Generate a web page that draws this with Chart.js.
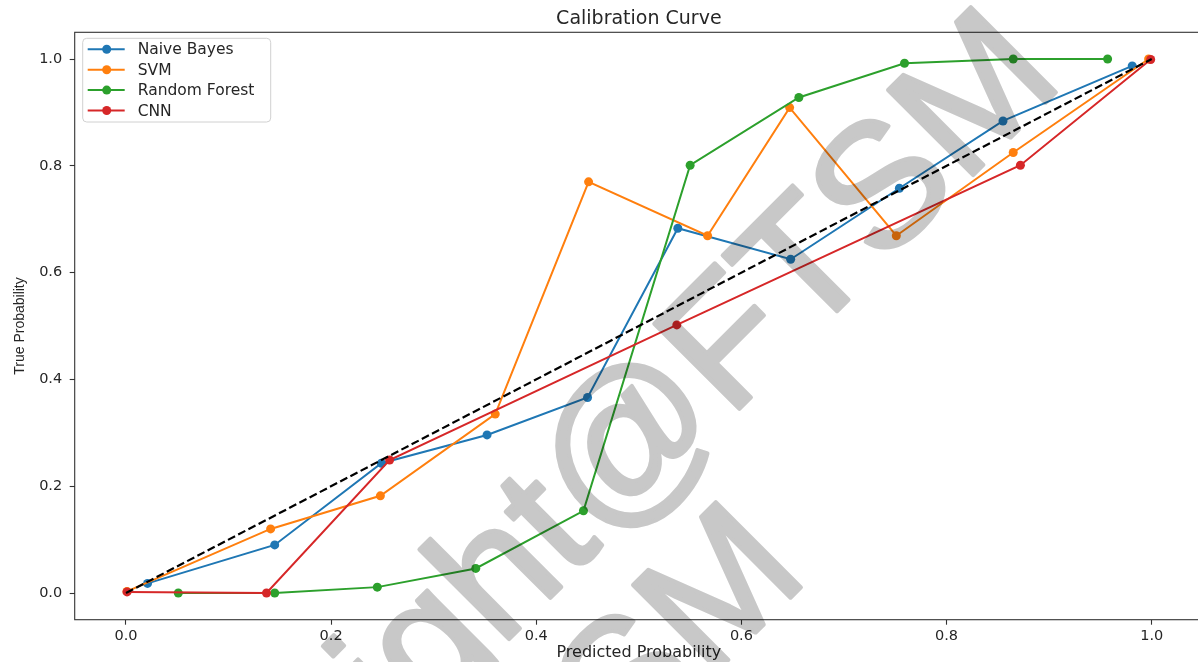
<!DOCTYPE html>
<html>
<head>
<meta charset="utf-8">
<script src="https://cdn.jsdelivr.net/npm/chart.js@4.4.1/dist/chart.umd.min.js"></script>
<style>
  html, body { margin: 0; padding: 0; background: #fff; overflow: hidden; }
  #wrap { width: 1210px; height: 662px; }
</style>
</head>
<body>
<div id="wrap"><canvas id="chart" width="1210" height="662"></canvas></div>
<script>
// Calibration curve, values
const xTicks = [0, 0.2, 0.4, 0.6, 0.8, 1.0];
const yTicks = [0, 0.2, 0.4, 0.6, 0.8, 1.0];

const seriesNames = ['Naive Bayes', 'SVM', 'Random Forest', 'CNN'];
const seriesColors = ['#1f77b4', '#ff7f0e', '#2ca02c', '#d62728'];

// mean predicted probability / fraction of positives per bin
const nbPred  = [0.021, 0.145, 0.249, 0.352, 0.450, 0.538, 0.648, 0.754, 0.855, 0.981];
const nbTrue  = [0.018, 0.090, 0.243, 0.296, 0.366, 0.683, 0.625, 0.758, 0.884, 0.987];
const svmPred = [0.001, 0.141, 0.248, 0.360, 0.451, 0.567, 0.647, 0.751, 0.865, 0.997];
const svmTrue = [0.003, 0.120, 0.182, 0.335, 0.770, 0.669, 0.909, 0.669, 0.825, 1.000];
const rfPred  = [0.051, 0.145, 0.245, 0.341, 0.446, 0.550, 0.656, 0.759, 0.865, 0.957];
const rfTrue  = [0.000, 0.000, 0.011, 0.046, 0.154, 0.801, 0.928, 0.992, 1.000, 1.000];
const cnnPred = [0.001, 0.137, 0.257, 0.537, 0.872, 0.999];
const cnnTrue = [0.002, 0.000, 0.249, 0.502, 0.801, 0.999];

// perfectly calibrated reference
const diagX = [0, 1];
const diagY = [0, 1];

const watermarkText = 'Copyright@FTSM';

const FONT = '"DejaVu Sans", sans-serif';
const INK = '#262626';

function toPoints(xs, ys) {
  return xs.map((x, i) => ({ x, y: ys[i] }));
}

const predSets = [nbPred, svmPred, rfPred, cnnPred];
const trueSets = [nbTrue, svmTrue, rfTrue, cnnTrue];

const curveSets = seriesNames.map((name, i) => ({
  label: name,
  data: toPoints(predSets[i], trueSets[i]),
  showLine: true,
  borderColor: seriesColors[i],
  backgroundColor: seriesColors[i],
  borderWidth: 2,
  pointRadius: 4.5,
  pointHoverRadius: 4.5,
  pointBorderWidth: 0,
  order: seriesNames.length - i
}));

const diagSet = {
  label: '',
  data: toPoints(diagX, diagY),
  showLine: true,
  borderColor: '#000',
  borderWidth: 2.2,
  borderDash: [8, 3.5],
  pointRadius: 0,
  order: 0
};

// all four spines, drawn over the lines like matplotlib
const spines = {
  id: 'spines',
  afterDatasetsDraw(chart) {
    const { ctx, chartArea: a } = chart;
    ctx.save();
    ctx.strokeStyle = '#333';
    ctx.lineWidth = 1.1;
    ctx.strokeRect(a.left, a.top, a.right - a.left, a.bottom - a.top);
    ctx.restore();
  }
};

// matplotlib-like legend: line + marker handle inside a framed box
const boxLegend = {
  id: 'boxLegend',
  afterDatasetsDraw(chart) {
    const { ctx, chartArea: a } = chart;
    const items = chart.data.datasets.filter(d => d.label);
    const x0 = a.left + 8, y0 = a.top + 6;
    const rowH = 20.4;
    const w = 188, h = 22.5 + rowH * (items.length - 1);
    ctx.save();
    ctx.beginPath();
    ctx.roundRect(x0, y0, w, h, 4);
    ctx.fillStyle = 'rgba(255,255,255,0.8)';
    ctx.fill();
    ctx.strokeStyle = '#d0d0d0';
    ctx.lineWidth = 1;
    ctx.stroke();
    ctx.font = '15.5px ' + FONT;
    ctx.textBaseline = 'middle';
    items.forEach((d, i) => {
      const y = y0 + 11 + i * rowH;
      ctx.strokeStyle = d.borderColor;
      ctx.lineWidth = 2;
      ctx.beginPath();
      ctx.moveTo(x0 + 5, y);
      ctx.lineTo(x0 + 42, y);
      ctx.stroke();
      ctx.fillStyle = d.borderColor;
      ctx.beginPath();
      ctx.arc(x0 + 24, y, 4.5, 0, Math.PI * 2);
      ctx.fill();
      ctx.fillStyle = INK;
      ctx.fillText(d.label, x0 + 55, y + 1);
    });
    ctx.restore();
  }
};

// grey diagonal watermark laid over the figure (drawn offscreen, multiplied once)
const watermark = {
  id: 'watermark',
  afterDraw(chart) {
    const { ctx, canvas } = chart;
    const off = document.createElement('canvas');
    off.width = canvas.width;
    off.height = canvas.height;
    const o = off.getContext('2d');
    o.fillStyle = '#c8c8c8';
    o.strokeStyle = '#c8c8c8';
    o.lineWidth = 4;
    o.lineJoin = 'round';
    o.font = '175px "Liberation Sans", sans-serif';
    o.textAlign = 'right';
    o.textBaseline = 'middle';
    [[1032, 48], [777, 543]].forEach(([ex, ey]) => {
      o.save();
      o.translate(ex, ey);
      o.rotate(-Math.PI / 4);
      o.fillText(watermarkText, 0, 0);
      o.strokeText(watermarkText, 0, 0);
      o.restore();
    });
    ctx.save();
    ctx.setTransform(1, 0, 0, 1, 0, 0);
    ctx.globalCompositeOperation = 'multiply';
    ctx.drawImage(off, 0, 0);
    ctx.restore();
  }
};

new Chart(document.getElementById('chart'), {
  type: 'scatter',
  data: { datasets: [diagSet, ...curveSets] },
  options: {
    responsive: false,
    animation: false,
    events: [],
    layout: { padding: { left: 0, right: 7, top: 0, bottom: 0 } },
    plugins: {
      legend: { display: false },
      tooltip: { enabled: false },
      title: {
        display: true,
        text: 'Calibration Curve',
        fullSize: false,
        color: INK,
        font: { family: FONT, size: 19, weight: 'normal' },
        padding: { top: 8, bottom: 1.5 }
      }
    },
    scales: {
      x: {
        type: 'linear',
        min: -0.05,
        max: 1.05,
        afterBuildTicks: axis => { axis.ticks = xTicks.map(v => ({ value: v })); },
        afterFit: axis => { axis.height = 42.3; },
        grid: { drawOnChartArea: false, drawTicks: true, tickLength: 5, tickWidth: 1.1, tickColor: '#333' },
        border: { display: false },
        ticks: {
          padding: 3, color: INK, autoSkip: false, maxRotation: 0,
          font: { family: FONT, size: 14.5 },
          callback: v => Number(v).toFixed(1)
        },
        title: {
          display: true, text: 'Predicted Probability', color: INK,
          font: { family: FONT, size: 16 }, padding: { top: 0, bottom: 0 }
        }
      },
      y: {
        type: 'linear',
        min: -0.05,
        max: 1.05,
        afterBuildTicks: axis => { axis.ticks = yTicks.map(v => ({ value: v })); },
        afterFit: axis => { axis.width = 74.7; },
        grid: { drawOnChartArea: false, drawTicks: true, tickLength: 5, tickWidth: 1.1, tickColor: '#333' },
        border: { display: false },
        ticks: {
          padding: 7.5, color: INK, autoSkip: false,
          font: { family: FONT, size: 14.5 },
          callback: v => Number(v).toFixed(1)
        },
        title: {
          display: true, text: 'True Probability', color: INK,
          font: { family: '"Liberation Sans", sans-serif', size: 14 }, padding: { top: 11.5, bottom: 0 }
        }
      }
    }
  },
  plugins: [spines, boxLegend, watermark]
});
</script>
</body>
</html>
